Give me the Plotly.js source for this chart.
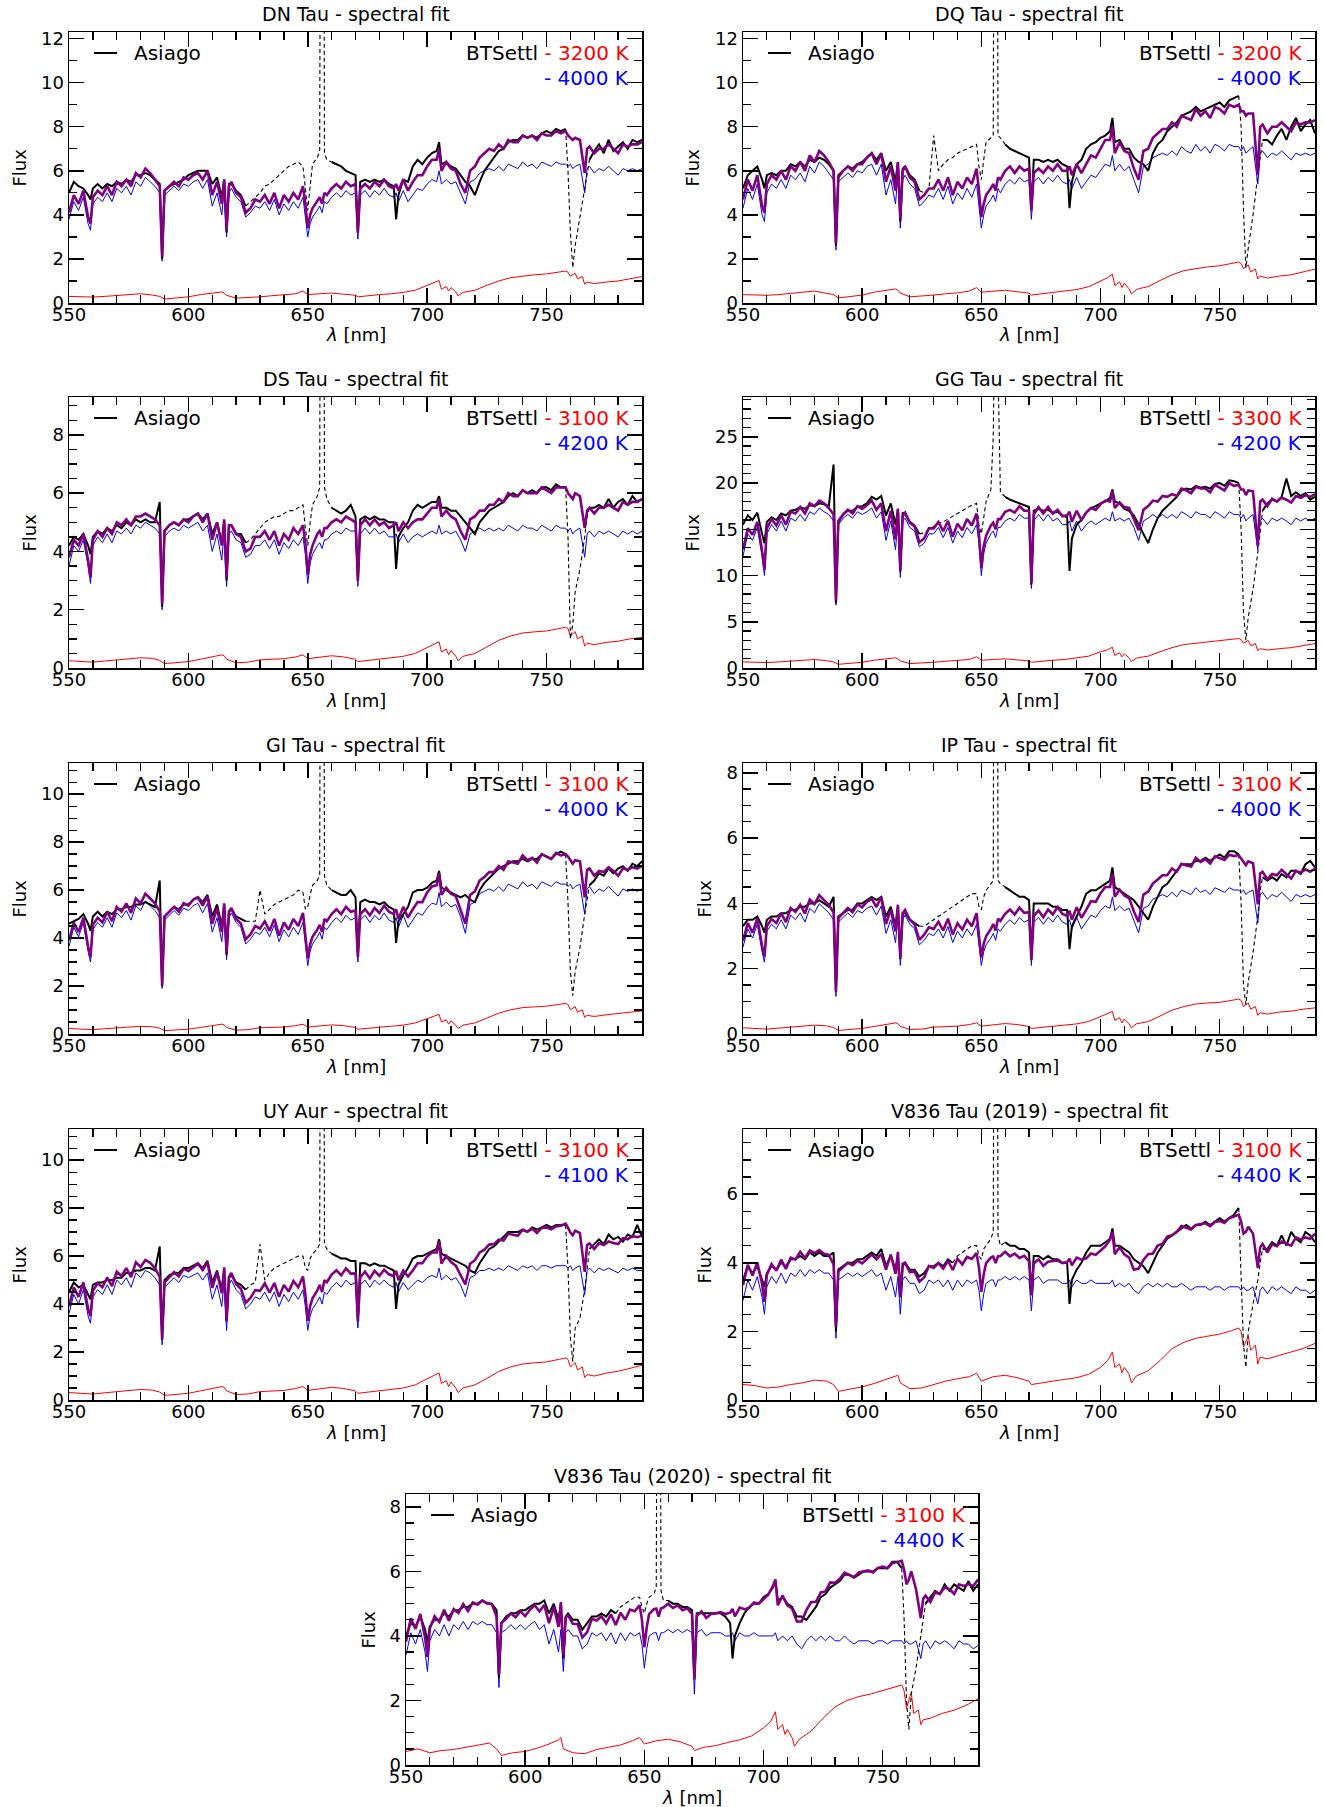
<!DOCTYPE html>
<html>
<head>
<meta charset="utf-8">
<script src="https://cdn.plot.ly/plotly-3.0.1.min.js"></script>
<style>html,body{margin:0;padding:0;background:#fff}#chart{width:1324px;height:1807px}</style>
</head>
<body>
<div id="chart"></div>
<script>
// ---------------- DATA ----------------
// wavelength grid (nm) for observed spectrum, fit and hot component
const wl = [550,552,554,556,558,559,560,562,564,566,
568,570,572,574,576,578,580,582,584,586,
588,589,590,592,594,596,598,600,602,604,
606,608,610,612,614,615,616,617,618,620,
622,624,626,628,630,632,634,636,638,640,
642,644,646,648,649,650,651,652,654,655,
656,657,658,660,662,664,666,668,670,671,
672,674,676,678,680,682,684,686,687,688,
690,692,694,696,698,700,702,704,705,706,
708,710,712,714,716,718,720,722,724,726,
728,730,732,734,736,738,740,742,744,746,
748,750,752,754,756,758,759,760,761,762,
764,766,767,768,770,772,774,776,778,780,
782,784,786,788,790];
// wavelength grid (nm) for the cool component
const wlCool = [550,555,560,565,570,575,580,585,588,590,
595,600,605,610,614,615,616,620,625,630,
635,640,645,648,650,655,660,665,670,671,
675,680,685,690,695,700,703,705,706,708,
709,710,712,713,715,718,720,725,730,735,
740,745,750,755,758,759,760,762,763,765,
766,767,770,775,780,785,790];

// ---- DN Tau ----
const DN_obs = [5.0,5.5,5.3,5.2,4.9,4.7,5.2,5.4,5.2,5.4,
5.3,5.5,5.4,5.6,5.5,5.8,5.8,5.9,5.8,5.6,
5.4,2.0,5.1,5.3,5.4,5.5,5.6,5.8,5.9,6.0,
6.0,6.0,5.4,5.7,4.8,5.6,3.2,5.4,5.4,5.1,
4.9,4.4,4.6,4.8,5.0,5.3,5.4,5.6,5.8,6.0,
6.2,6.3,6.4,6.2,5.2,4.2,5.3,6.3,6.6,6.9,
50,6.8,6.5,6.4,6.3,6.2,6.0,5.9,5.8,3.2,
5.5,5.6,5.5,5.6,5.5,5.6,5.4,5.3,3.8,4.9,
5.6,5.5,6.2,6.5,6.3,6.6,6.8,6.9,7.3,6.3,
6.4,6.2,6.1,5.8,5.5,5.3,4.9,5.5,6.0,6.3,
6.6,6.9,7.0,7.3,7.4,7.4,7.6,7.5,7.6,7.5,
7.7,7.8,7.7,7.9,7.8,7.9,6.0,3.2,1.6,2.6,
3.9,5.3,5.8,6.5,6.9,7.2,6.8,7.4,6.9,7.1,
7.3,7.0,7.4,7.3,7.4];
const DN_fit = [4.1,4.9,4.5,5.1,3.9,3.6,4.8,5.1,4.9,5.3,
4.9,5.5,5.3,5.6,5.3,5.9,5.7,6.1,5.9,5.6,
5.3,2.1,5.1,5.3,5.5,5.3,5.7,5.6,5.8,5.9,
5.6,6.0,4.9,5.5,4.5,5.6,3.3,5.3,5.5,5.0,
4.8,4.1,4.3,4.7,4.6,4.9,4.5,5.0,4.3,4.9,
4.6,5.0,4.7,5.3,4.5,3.4,4.0,4.3,4.6,4.8,
4.5,5.0,4.9,5.2,5.4,5.2,5.5,5.3,5.4,3.2,
5.2,5.4,5.2,5.5,5.3,5.6,5.3,5.2,5.4,5.1,
5.6,5.1,5.5,5.8,5.8,6.2,6.5,6.5,7.0,6.0,
6.4,6.1,6.0,5.4,5.0,6.0,6.2,6.6,6.8,7.0,
6.9,7.2,7.0,7.4,7.3,7.3,7.6,7.5,7.6,7.4,
7.7,7.6,7.6,7.8,7.7,7.8,7.6,7.5,7.4,7.5,
7.4,5.9,7.0,7.1,6.8,7.0,7.0,7.2,7.0,6.8,
7.2,7.1,7.2,7.2,7.3];
const DN_hot = [3.8,4.6,4.2,4.8,3.6,3.3,4.5,4.8,4.6,5.0,
4.6,5.2,5.0,5.3,4.9,5.5,5.3,5.7,5.5,5.3,
5.0,1.9,4.9,5.1,5.3,5.1,5.4,5.3,5.5,5.6,
5.2,5.6,4.4,5.0,4.0,5.2,3.0,5.0,5.2,4.8,
4.6,3.9,4.1,4.4,4.3,4.6,4.2,4.7,4.0,4.5,
4.2,4.6,4.3,4.8,4.0,3.0,3.6,3.9,4.2,4.4,
4.1,4.6,4.5,4.8,5.0,4.8,5.1,4.9,5.0,2.9,
4.9,5.1,4.8,5.1,4.9,5.2,4.9,4.8,5.0,4.6,
5.1,4.6,4.9,5.2,5.1,5.4,5.6,5.5,6.0,5.4,
5.6,5.4,5.5,5.0,4.5,5.5,5.6,5.9,6.0,6.1,
6.0,6.2,6.0,6.3,6.2,6.1,6.4,6.2,6.3,6.1,
6.4,6.3,6.2,6.4,6.3,6.3,6.2,6.3,6.1,6.2,
6.3,5.0,6.1,6.2,5.9,6.1,6.0,6.2,6.0,5.8,
6.1,6.0,6.1,6.0,6.1];
const DN_cool = [0.30,0.28,0.27,0.30,0.33,0.38,0.42,0.36,0.30,0.18,
0.22,0.28,0.38,0.46,0.50,0.45,0.35,0.22,0.24,0.28,
0.33,0.36,0.42,0.55,0.38,0.42,0.45,0.40,0.35,0.28,
0.33,0.38,0.42,0.48,0.58,0.80,0.90,1.02,0.62,0.75,
0.55,0.70,0.50,0.32,0.48,0.55,0.58,0.80,1.00,1.15,
1.22,1.28,1.32,1.40,1.45,1.40,1.22,1.35,1.10,1.20,
0.85,0.95,0.88,0.95,1.00,1.10,1.20];

// ---- DQ Tau ----
const DQ_obs = [5.2,5.8,6.0,6.2,5.6,5.2,5.8,5.9,5.8,6.0,
6.0,6.3,6.2,6.4,6.2,6.5,6.4,6.6,6.5,6.3,
6.0,2.6,5.8,6.0,6.2,6.1,6.3,6.4,6.6,6.8,
6.5,6.8,6.0,6.4,5.5,6.4,3.7,6.1,6.2,5.8,
5.6,5.1,5.0,5.2,7.6,6.0,6.3,6.5,6.6,6.8,
6.9,7.0,7.1,7.2,6.2,5.6,6.5,7.3,7.5,7.6,
50,7.6,7.5,7.2,7.0,6.9,6.8,6.7,6.6,4.3,
6.5,6.5,6.4,6.5,6.4,6.5,6.3,6.2,4.3,5.5,
6.3,6.5,7.0,7.2,7.3,7.5,7.6,7.8,8.4,7.3,
7.4,7.0,7.0,6.6,6.4,6.3,6.0,6.8,7.2,7.4,
7.8,8.0,8.2,8.5,8.6,8.7,8.9,8.7,8.8,8.9,
9.0,9.1,8.9,9.2,9.3,9.4,8.0,4.2,1.6,2.5,
4.0,5.8,6.6,7.4,7.4,7.2,7.6,7.9,7.4,8.0,
8.4,7.8,8.1,8.3,7.7];
const DQ_fit = [4.7,5.6,5.1,5.8,4.4,4.1,5.4,5.8,5.6,6.0,
5.6,6.2,6.0,6.4,6.0,6.7,6.4,6.9,6.7,6.4,
6.0,2.7,5.7,6.0,6.2,6.0,6.3,6.3,6.6,6.8,
6.3,6.8,5.5,6.2,5.1,6.4,3.8,6.0,6.2,5.7,
5.5,4.7,4.9,5.2,5.2,5.6,5.1,5.7,4.9,5.5,
5.2,5.7,5.4,6.1,5.1,3.9,4.5,4.9,5.2,5.4,
5.1,5.7,5.6,6.0,6.2,5.9,6.2,6.0,6.1,4.2,
5.9,6.1,5.9,6.2,6.0,6.3,6.0,6.0,6.2,5.8,
6.3,5.9,6.3,6.7,6.6,7.0,7.4,7.4,8.0,6.8,
7.3,6.9,6.8,6.1,5.6,6.9,7.0,7.5,7.7,7.9,
7.9,8.2,8.0,8.5,8.4,8.3,8.8,8.5,8.7,8.4,
8.9,8.8,8.6,9.0,8.9,9.0,8.7,8.7,8.5,8.6,
8.6,5.8,8.0,8.1,7.7,8.0,8.0,8.2,8.0,7.8,
8.2,8.1,8.2,8.2,8.3];
const DQ_hot = [4.3,5.2,4.7,5.4,4.0,3.7,5.0,5.4,5.2,5.6,
5.2,5.8,5.6,5.9,5.5,6.2,5.9,6.4,6.2,5.9,
5.6,2.4,5.5,5.7,5.9,5.7,6.0,5.9,6.2,6.3,
5.8,6.3,4.9,5.6,4.5,5.8,3.4,5.6,5.8,5.4,
5.2,4.4,4.6,4.9,4.8,5.2,4.7,5.3,4.5,5.0,
4.7,5.2,4.8,5.4,4.5,3.4,4.0,4.4,4.7,4.9,
4.6,5.2,5.0,5.4,5.6,5.4,5.7,5.5,5.6,3.8,
5.5,5.7,5.4,5.7,5.5,5.8,5.5,5.4,5.6,5.2,
5.7,5.2,5.5,5.8,5.7,6.0,6.3,6.2,6.7,6.0,
6.3,6.0,6.2,5.6,5.0,6.2,6.3,6.6,6.7,6.8,
6.7,6.9,6.7,7.1,6.9,6.8,7.2,6.9,7.1,6.8,
7.2,7.1,6.9,7.2,7.1,7.1,6.9,7.1,6.8,6.9,
7.1,5.4,6.8,6.9,6.6,6.8,6.7,6.9,6.7,6.5,
6.8,6.7,6.8,6.7,6.8];
const DQ_cool = [0.38,0.36,0.35,0.38,0.42,0.49,0.54,0.46,0.38,0.23,
0.28,0.36,0.49,0.59,0.64,0.58,0.45,0.28,0.31,0.36,
0.42,0.46,0.54,0.70,0.49,0.54,0.58,0.51,0.45,0.36,
0.42,0.49,0.54,0.61,0.74,1.02,1.15,1.31,0.79,0.96,
0.70,0.90,0.64,0.41,0.61,0.70,0.74,1.02,1.28,1.47,
1.56,1.64,1.69,1.79,1.86,1.79,1.56,1.73,1.41,1.54,
1.09,1.22,1.13,1.22,1.28,1.41,1.54];

// ---- DS Tau ----
const DS_obs = [4.2,4.5,4.4,4.6,4.2,3.9,4.5,4.7,4.6,4.8,
4.7,4.9,4.8,5.0,4.9,5.1,5.0,5.1,5.0,5.0,
5.7,2.1,4.7,4.9,5.0,4.9,5.1,5.1,5.2,5.3,
5.1,5.3,4.6,5.0,4.3,5.0,3.0,4.9,4.9,4.6,
4.6,4.3,4.4,4.6,4.8,5.0,5.1,5.2,5.2,5.3,
5.4,5.4,5.5,5.6,4.8,4.2,5.0,5.6,5.9,6.2,
40,6.2,5.8,5.5,5.4,5.3,5.4,5.6,5.2,3.0,
5.1,5.2,5.1,5.2,5.1,5.1,5.0,5.0,3.4,4.5,
4.8,5.0,5.4,5.6,5.5,5.6,5.7,5.7,5.9,5.5,
5.5,5.4,5.4,5.2,5.0,4.8,4.6,5.0,5.2,5.4,
5.5,5.6,5.7,5.9,6.0,5.9,6.1,6.0,6.1,6.0,
6.2,6.2,6.1,6.3,6.2,6.2,4.5,1.0,1.5,2.6,
3.4,4.5,5.2,5.5,5.5,5.6,5.5,5.8,5.5,5.7,
5.8,5.6,5.9,5.7,5.8];
const DS_fit = [3.8,4.4,4.2,4.6,3.7,3.1,4.4,4.7,4.5,4.8,
4.6,5.0,4.9,5.1,4.9,5.2,5.2,5.3,5.2,5.1,
4.9,2.2,4.7,4.9,5.0,4.9,5.1,5.0,5.2,5.3,
5.0,5.3,4.4,5.0,4.2,5.1,3.1,4.9,4.9,4.6,
4.5,4.0,4.1,4.5,4.5,4.7,4.4,4.7,4.2,4.6,
4.4,4.8,4.6,4.9,4.3,3.2,3.9,4.2,4.6,4.7,
4.5,4.8,4.8,5.0,5.1,5.0,5.2,5.1,5.0,3.0,
4.9,5.1,4.9,5.1,4.9,5.0,4.8,4.9,5.0,4.7,
5.0,4.8,5.0,5.1,5.1,5.3,5.5,5.5,5.8,5.2,
5.4,5.2,5.1,4.7,4.4,5.1,5.2,5.4,5.4,5.6,
5.6,5.8,5.7,6.0,5.9,5.9,6.1,6.0,6.0,6.0,
6.2,6.1,6.0,6.2,6.2,6.2,6.0,5.9,5.8,6.0,
5.9,4.8,5.4,5.5,5.3,5.5,5.5,5.6,5.5,5.4,
5.7,5.6,5.7,5.7,5.8];
const DS_hot = [3.5,4.2,4.0,4.4,3.5,2.9,4.2,4.5,4.3,4.6,
4.3,4.7,4.6,4.8,4.6,4.9,4.8,5.0,4.9,4.8,
4.6,2.0,4.5,4.7,4.8,4.7,4.9,4.8,4.9,5.0,
4.7,4.9,4.0,4.6,3.7,4.7,2.8,4.6,4.7,4.4,
4.3,3.8,3.9,4.2,4.2,4.4,4.1,4.4,3.9,4.3,
4.1,4.4,4.2,4.5,3.9,2.9,3.6,3.9,4.2,4.3,
4.1,4.4,4.4,4.6,4.7,4.6,4.8,4.7,4.7,2.8,
4.6,4.8,4.6,4.8,4.6,4.7,4.5,4.5,4.6,4.3,
4.6,4.3,4.5,4.6,4.5,4.6,4.7,4.6,4.9,4.6,
4.7,4.6,4.7,4.4,4.0,4.6,4.7,4.8,4.7,4.8,
4.7,4.8,4.7,4.9,4.8,4.7,4.9,4.8,4.8,4.7,
4.9,4.8,4.7,4.9,4.8,4.8,4.7,4.8,4.6,4.7,
4.8,3.8,4.6,4.7,4.5,4.7,4.6,4.7,4.6,4.5,
4.7,4.6,4.7,4.6,4.7];
const DS_cool = [0.25,0.22,0.20,0.24,0.27,0.31,0.35,0.33,0.26,0.15,
0.18,0.22,0.30,0.38,0.45,0.42,0.30,0.18,0.20,0.28,
0.30,0.32,0.38,0.45,0.32,0.38,0.42,0.38,0.30,0.22,
0.26,0.30,0.35,0.40,0.50,0.70,0.80,0.90,0.55,0.65,
0.45,0.60,0.40,0.25,0.40,0.46,0.50,0.72,0.95,1.10,
1.20,1.24,1.27,1.35,1.40,1.35,1.10,1.25,1.00,1.10,
0.75,0.85,0.80,0.88,0.92,1.00,1.05];

// ---- GG Tau ----
const GG_obs = [15.5,16.5,16.0,16.8,14.5,13.5,15.8,16.3,16.0,16.7,
16.5,17.0,17.1,17.4,17.2,17.6,17.5,17.8,17.7,17.5,
22.0,7.0,15.8,16.6,17.0,17.0,17.4,17.5,17.8,18.5,
18.2,18.6,16.5,17.8,15.5,17.2,10.4,16.8,16.6,15.8,
15.4,14.5,14.6,15.0,15.3,15.6,15.8,16.1,16.4,16.7,
17.0,17.3,17.6,17.8,15.5,14.5,16.5,18.0,19.3,25.0,
45,32,19.0,18.5,18.2,18.0,17.8,17.6,17.4,9.0,
17.0,17.2,17.0,17.1,16.8,16.9,16.5,16.3,10.5,14.0,
15.5,16.0,16.8,17.3,17.5,17.8,18.0,18.4,19.3,18.0,
17.8,17.2,17.0,16.5,15.5,14.5,13.5,15.0,16.2,17.0,
17.5,18.0,18.5,19.2,19.4,19.3,19.7,19.5,19.6,19.4,
19.9,20.0,19.7,20.3,20.2,20.0,15.0,6.0,3.0,5.5,
8.5,12.5,15.0,17.0,17.8,18.2,18.0,18.5,20.5,18.6,
19.0,18.6,18.9,18.2,18.5];
const GG_fit = [12.8,15.1,14.4,15.8,12.7,10.6,15.1,16.1,15.4,16.5,
15.5,16.9,16.7,17.4,16.7,17.8,17.5,18.1,17.8,17.3,
16.6,7.3,15.9,16.6,17.1,16.7,17.5,17.2,17.6,18.1,
17.1,17.8,14.8,17.0,13.9,17.2,10.6,16.5,16.8,15.7,
15.3,13.6,14.0,15.1,15.1,15.8,14.8,15.9,14.2,15.6,
14.9,16.1,15.4,16.7,14.5,10.8,13.2,14.3,15.4,15.7,
15.0,16.1,16.1,16.9,17.1,16.8,17.5,17.0,17.0,9.2,
16.6,17.4,16.7,17.4,16.7,17.1,16.4,16.5,16.9,15.8,
17.0,16.0,16.8,17.3,17.1,17.7,18.1,18.0,19.1,17.3,
17.9,17.4,17.3,16.1,14.9,17.1,17.5,18.1,18.0,18.6,
18.5,18.8,18.6,19.4,19.2,18.9,19.6,19.4,19.4,19.0,
19.8,19.5,19.2,20.0,19.7,19.8,19.3,19.3,18.7,19.2,
19.1,13.2,18.0,18.2,17.5,18.3,18.0,18.4,18.2,17.9,
18.6,18.4,18.7,18.5,18.8];
const GG_hot = [12.1,14.5,13.8,15.2,12.1,10.0,14.5,15.5,14.8,15.9,
14.8,16.2,15.9,16.6,15.9,16.9,16.6,17.3,16.9,16.6,
15.9,6.8,15.5,16.2,16.6,16.2,16.9,16.6,16.9,17.3,
16.2,16.9,13.8,15.9,12.8,16.2,9.8,15.9,16.2,15.2,
14.8,13.1,13.5,14.5,14.5,15.2,14.1,15.2,13.5,14.8,
14.1,15.2,14.5,15.5,13.5,10.0,12.4,13.5,14.5,14.8,
14.1,15.2,15.2,15.9,16.2,15.9,16.6,16.2,16.2,8.6,
15.9,16.6,15.9,16.6,15.9,16.2,15.5,15.5,15.9,14.8,
15.9,14.8,15.5,15.9,15.5,15.9,16.2,15.9,16.9,15.9,
16.2,15.9,16.2,15.2,13.8,15.9,16.2,16.6,16.2,16.6,
16.2,16.6,16.2,16.9,16.6,16.2,16.9,16.6,16.6,16.2,
16.9,16.6,16.2,16.9,16.6,16.6,16.2,16.6,15.9,16.2,
16.6,12.8,15.9,16.2,15.5,16.2,15.9,16.2,15.9,15.5,
16.2,15.9,16.2,15.9,16.2];
const GG_cool = [0.66,0.62,0.59,0.66,0.73,0.84,0.92,0.79,0.66,0.40,
0.48,0.62,0.84,1.01,1.10,0.99,0.77,0.48,0.53,0.62,
0.73,0.79,0.92,1.21,0.84,0.92,0.99,0.88,0.77,0.62,
0.73,0.84,0.92,1.06,1.28,1.76,1.98,2.24,1.36,1.65,
1.21,1.54,1.10,0.70,1.06,1.21,1.28,1.76,2.20,2.53,
2.68,2.82,2.90,3.08,3.19,3.08,2.68,2.97,2.42,2.64,
1.87,2.09,1.94,2.09,2.20,2.42,2.64];

// ---- GI Tau ----
const GI_obs = [4.6,4.7,4.8,5.0,4.6,4.3,4.9,5.1,4.9,5.1,
5.0,5.2,5.2,5.3,5.3,5.4,5.4,5.5,5.4,5.3,
6.4,2.0,4.9,5.1,5.3,5.2,5.4,5.4,5.6,5.7,
5.5,5.8,4.9,5.4,4.5,5.4,3.3,5.1,5.2,4.9,
4.8,4.7,4.7,4.7,6.0,5.0,5.2,5.4,5.5,5.6,
5.7,5.8,6.0,5.9,5.2,5.3,5.8,6.2,6.4,6.6,
50,6.6,6.2,6.0,5.9,5.8,5.8,6.0,5.7,3.4,
5.5,5.6,5.5,5.5,5.4,5.5,5.3,5.2,3.8,4.7,
5.0,5.3,5.9,6.0,6.0,6.1,6.3,6.4,6.8,6.1,
6.0,5.9,5.8,5.7,5.8,5.6,5.5,6.0,6.3,6.5,
6.7,6.9,7.0,7.1,7.2,7.2,7.3,7.2,7.3,7.3,
7.5,7.4,7.3,7.5,7.6,7.5,5.5,2.6,1.6,2.6,
3.6,5.0,5.6,6.2,6.4,6.7,6.6,6.9,6.7,6.9,
7.0,6.8,7.1,7.0,7.2];
const GI_fit = [3.9,4.65,4.25,4.85,3.65,3.2,4.55,4.85,4.65,5.1,
4.7,5.3,5.1,5.45,5.05,5.65,5.45,5.85,5.65,5.45,
5.1,2.05,4.9,5.1,5.3,5.1,5.45,5.35,5.6,5.7,
5.35,5.75,4.6,5.25,4.25,5.45,3.35,5.1,5.25,4.8,
4.6,3.95,4.15,4.5,4.4,4.7,4.3,4.8,4.1,4.65,
4.35,4.8,4.5,5.05,4.2,3.15,3.75,4.05,4.35,4.55,
4.25,4.8,4.7,5.0,5.2,5.0,5.3,5.1,5.15,3.2,
5.0,5.2,4.95,5.25,5.05,5.35,5.1,5.0,5.2,4.8,
5.3,4.85,5.2,5.5,5.5,5.9,6.15,6.2,6.7,5.8,
6.1,5.85,5.75,5.15,4.6,5.8,5.95,6.4,6.55,6.75,
6.75,7.0,6.85,7.2,7.15,7.1,7.45,7.25,7.35,7.15,
7.5,7.4,7.3,7.55,7.45,7.5,7.4,7.25,7.1,7.25,
7.2,5.7,6.85,6.9,6.6,6.8,6.75,6.95,6.8,6.6,
6.9,6.85,6.95,6.9,7.0];
const GI_hot = [3.65,4.45,4.05,4.65,3.45,3.0,4.35,4.65,4.45,4.85,
4.45,5.05,4.85,5.15,4.75,5.35,5.15,5.55,5.35,5.15,
4.85,1.9,4.75,4.95,5.15,4.95,5.25,5.15,5.35,5.45,
5.05,5.45,4.25,4.85,3.85,5.05,3.1,4.85,5.05,4.65,
4.45,3.75,3.95,4.25,4.15,4.45,4.05,4.55,3.85,4.35,
4.05,4.45,4.15,4.65,3.85,2.85,3.45,3.75,4.05,4.25,
3.95,4.45,4.35,4.65,4.85,4.65,4.95,4.75,4.85,3.0,
4.75,4.95,4.65,4.95,4.75,5.05,4.75,4.65,4.85,4.45,
4.95,4.45,4.75,5.05,4.95,5.25,5.45,5.4,5.9,5.3,
5.5,5.3,5.4,4.9,4.2,5.4,5.5,5.85,5.95,6.05,
5.95,6.15,5.95,6.25,6.15,6.05,6.35,6.15,6.25,6.05,
6.35,6.25,6.15,6.35,6.25,6.25,6.15,6.25,6.05,6.15,
6.25,5.0,6.05,6.15,5.85,6.05,5.95,6.15,5.95,5.75,
6.05,5.95,6.05,5.95,6.05];
const GI_cool = [0.23,0.20,0.18,0.22,0.25,0.28,0.32,0.30,0.24,0.14,
0.16,0.20,0.27,0.35,0.41,0.38,0.27,0.16,0.18,0.26,
0.27,0.29,0.35,0.41,0.29,0.35,0.38,0.35,0.27,0.20,
0.24,0.27,0.32,0.37,0.46,0.64,0.73,0.82,0.50,0.59,
0.41,0.55,0.37,0.23,0.37,0.42,0.46,0.66,0.87,1.01,
1.10,1.13,1.16,1.23,1.28,1.23,1.01,1.14,0.91,1.01,
0.69,0.78,0.73,0.80,0.84,0.91,0.96];

// ---- IP Tau ----
const IP_obs = [3.3,3.5,3.5,3.6,3.3,3.1,3.5,3.6,3.6,3.7,
3.7,3.8,3.8,3.9,3.9,4.0,4.0,4.1,4.0,3.9,
4.2,1.3,3.6,3.7,3.8,3.8,4.0,4.0,4.1,4.2,
4.1,4.2,3.6,3.9,3.3,3.9,2.3,3.7,3.7,3.5,
3.4,3.3,3.3,3.4,3.5,3.6,3.7,3.8,3.9,4.0,
4.1,4.2,4.3,4.3,3.9,3.8,4.2,4.4,4.6,4.7,
40,4.7,4.6,4.5,4.4,4.3,4.2,4.2,4.1,2.4,
4.0,4.0,4.0,4.0,3.9,3.9,3.8,3.8,2.6,3.3,
3.6,3.9,4.3,4.4,4.4,4.5,4.6,4.7,5.1,4.5,
4.4,4.3,4.2,4.1,3.9,3.7,3.5,3.9,4.2,4.5,
4.6,4.8,5.0,5.2,5.2,5.2,5.3,5.3,5.4,5.3,
5.4,5.5,5.4,5.6,5.6,5.5,4.0,1.5,0.9,1.6,
2.5,3.6,4.4,4.8,4.7,4.8,4.7,4.9,4.8,5.0,
5.0,4.9,5.2,5.3,5.1];
const IP_fit = [2.85,3.4,3.1,3.55,2.7,2.37,3.3,3.52,3.4,3.7,
3.43,3.86,3.74,3.96,3.69,4.12,3.98,4.25,4.1,3.96,
3.72,1.3,3.55,3.71,3.86,3.73,3.97,3.88,4.05,4.14,
3.89,4.2,3.37,3.81,3.14,3.96,2.33,3.7,3.8,3.5,
3.36,2.88,3.04,3.27,3.22,3.44,3.17,3.53,3.05,3.39,
3.2,3.5,3.3,3.7,3.1,2.34,2.77,2.99,3.22,3.37,
3.17,3.53,3.46,3.68,3.81,3.66,3.87,3.71,3.73,2.27,
3.62,3.78,3.58,3.81,3.66,3.89,3.68,3.62,3.77,3.5,
3.88,3.56,3.8,4.07,4.05,4.31,4.5,4.5,4.89,4.2,
4.42,4.24,4.16,3.75,3.43,4.27,4.36,4.61,4.73,4.86,
4.86,5.07,4.97,5.21,5.16,5.13,5.4,5.27,5.35,5.22,
5.44,5.38,5.33,5.49,5.45,5.48,5.37,5.25,5.17,5.29,
5.23,3.97,4.92,4.97,4.74,4.9,4.86,5.03,4.9,4.76,
5.0,4.94,5.04,4.97,5.07];
const IP_hot = [2.66,3.22,2.94,3.36,2.52,2.2,3.15,3.36,3.22,3.5,
3.22,3.64,3.5,3.71,3.43,3.85,3.71,3.99,3.85,3.71,
3.5,1.15,3.43,3.57,3.71,3.57,3.78,3.71,3.85,3.92,
3.64,3.92,3.08,3.5,2.8,3.64,2.1,3.5,3.64,3.36,
3.22,2.73,2.87,3.08,3.01,3.22,2.94,3.29,2.8,3.15,
2.94,3.22,3.01,3.36,2.8,2.1,2.52,2.73,2.94,3.08,
2.87,3.22,3.15,3.36,3.5,3.36,3.57,3.43,3.5,2.1,
3.43,3.57,3.36,3.57,3.43,3.64,3.43,3.36,3.5,3.22,
3.57,3.22,3.43,3.64,3.57,3.78,3.92,3.85,4.2,3.78,
3.92,3.78,3.85,3.5,3.1,3.85,3.92,4.13,4.2,4.27,
4.2,4.34,4.2,4.41,4.34,4.27,4.48,4.34,4.41,4.27,
4.48,4.41,4.34,4.48,4.41,4.41,4.34,4.41,4.27,4.34,
4.41,3.4,4.27,4.34,4.13,4.27,4.2,4.34,4.2,4.06,
4.27,4.2,4.27,4.2,4.27];
const IP_cool = [0.19,0.17,0.15,0.18,0.21,0.24,0.27,0.25,0.20,0.11,
0.14,0.17,0.23,0.29,0.34,0.32,0.23,0.14,0.15,0.21,
0.23,0.24,0.29,0.34,0.24,0.29,0.32,0.29,0.23,0.17,
0.20,0.23,0.27,0.31,0.38,0.53,0.61,0.69,0.42,0.50,
0.34,0.46,0.31,0.19,0.31,0.35,0.38,0.55,0.73,0.84,
0.92,0.95,0.97,1.03,1.07,1.03,0.84,0.95,0.76,0.84,
0.57,0.65,0.61,0.67,0.70,0.76,0.80];

// ---- UY Aur ----
const UY_obs = [4.5,4.9,4.7,4.8,4.4,4.2,4.8,4.9,4.9,5.0,
5.0,5.1,5.1,5.3,5.3,5.4,5.4,5.5,5.5,5.4,
6.4,2.5,5.0,5.2,5.3,5.3,5.5,5.5,5.6,5.7,
5.5,5.8,4.9,5.4,4.6,5.4,3.3,5.1,5.2,4.9,
4.8,4.6,4.8,4.9,6.5,5.0,5.3,5.5,5.6,5.7,
5.8,5.9,6.0,6.0,5.5,5.4,5.9,6.1,6.3,6.5,
50,6.5,6.3,6.1,6.0,5.9,5.9,5.8,5.8,3.4,
5.7,5.7,5.6,5.7,5.6,5.6,5.5,5.4,3.8,4.8,
5.2,5.5,5.9,6.0,6.0,6.1,6.2,6.3,6.7,6.1,
6.0,5.9,5.8,5.7,5.6,5.4,5.3,5.7,6.0,6.3,
6.4,6.6,6.8,7.0,7.0,7.0,7.1,7.0,7.2,7.1,
7.2,7.3,7.2,7.3,7.3,7.3,5.5,2.6,1.6,3.0,
3.4,4.6,5.5,6.3,6.5,6.7,6.5,6.9,6.7,6.8,
6.6,6.9,6.8,7.3,6.8];
const UY_fit = [3.9,4.7,4.3,4.9,3.8,3.5,4.55,4.87,4.7,5.1,
4.75,5.35,5.17,5.5,5.12,5.74,5.55,5.84,5.72,5.5,
5.13,2.55,4.9,5.12,5.33,5.15,5.47,5.38,5.53,5.68,
5.42,5.74,4.68,5.32,4.45,5.53,3.28,5.13,5.3,4.83,
4.64,4.05,4.26,4.58,4.55,4.86,4.48,4.88,4.3,4.8,
4.52,4.96,4.7,5.15,4.4,3.3,3.92,4.24,4.57,4.8,
4.5,5.0,4.91,5.23,5.41,5.2,5.49,5.27,5.28,3.28,
5.12,5.35,5.07,5.39,5.18,5.43,5.24,5.17,5.39,5.0,
5.4,5.15,5.4,5.7,5.7,5.98,6.15,6.15,6.63,5.69,
6.01,5.75,5.6,5.2,4.82,5.68,5.83,6.15,6.27,6.48,
6.5,6.69,6.65,6.93,6.89,6.85,7.1,7.02,7.14,6.97,
7.18,7.19,7.12,7.24,7.27,7.35,7.19,6.98,6.87,7.06,
6.96,5.34,6.46,6.53,6.3,6.54,6.46,6.61,6.55,6.5,
6.75,6.7,6.84,6.79,6.85];
const UY_hot = [3.6,4.4,4.0,4.6,3.5,3.2,4.3,4.6,4.4,4.8,
4.4,5.0,4.8,5.1,4.7,5.3,5.1,5.4,5.3,5.1,
4.8,2.3,4.7,4.9,5.1,4.9,5.2,5.1,5.2,5.3,
5.0,5.3,4.2,4.8,3.9,5.0,2.9,4.8,5.0,4.6,
4.4,3.8,4.0,4.3,4.2,4.5,4.1,4.5,3.9,4.4,
4.1,4.5,4.2,4.6,3.9,2.9,3.5,3.8,4.1,4.3,
4.0,4.5,4.4,4.7,4.9,4.7,5.0,4.8,4.9,3.0,
4.8,5.0,4.7,5.0,4.8,5.0,4.8,4.7,4.9,4.5,
4.9,4.6,4.8,5.0,4.9,5.1,5.2,5.1,5.5,5.0,
5.2,5.0,5.1,4.8,4.3,5.1,5.2,5.4,5.4,5.5,
5.4,5.5,5.4,5.6,5.5,5.4,5.6,5.5,5.6,5.4,
5.6,5.6,5.5,5.6,5.6,5.6,5.5,5.6,5.4,5.5,
5.6,4.4,5.4,5.5,5.3,5.5,5.4,5.5,5.4,5.3,
5.5,5.4,5.5,5.4,5.4];
const UY_cool = [0.31,0.28,0.25,0.30,0.34,0.39,0.44,0.41,0.33,0.19,
0.23,0.28,0.38,0.48,0.56,0.53,0.38,0.23,0.25,0.35,
0.38,0.40,0.48,0.56,0.40,0.48,0.53,0.48,0.38,0.28,
0.33,0.38,0.44,0.50,0.63,0.88,1.00,1.13,0.69,0.81,
0.56,0.75,0.50,0.31,0.50,0.58,0.63,0.90,1.19,1.38,
1.50,1.55,1.59,1.69,1.75,1.69,1.38,1.56,1.25,1.38,
0.94,1.06,1.00,1.12,1.20,1.32,1.45];

// ---- V836 Tau (2019) ----
const V19_obs = [3.5,3.9,3.7,3.9,3.5,3.3,3.7,3.9,3.8,4.0,
3.9,4.1,4.1,4.2,4.1,4.3,4.2,4.3,4.2,4.2,
4.3,2.0,3.8,3.9,4.0,4.0,4.1,4.1,4.2,4.3,
4.2,4.4,3.9,4.2,3.8,4.2,3.0,3.9,4.0,3.8,
3.8,3.6,3.7,3.9,3.9,4.0,3.9,4.1,4.0,4.2,
4.3,4.4,4.5,4.5,4.2,4.1,4.4,4.5,4.7,4.9,
30,4.8,4.5,4.6,4.5,4.5,4.4,4.4,4.3,3.1,
4.2,4.2,4.1,4.2,4.1,4.1,4.0,4.0,2.8,3.5,
3.8,4.0,4.3,4.5,4.5,4.5,4.6,4.7,5.0,4.5,
4.5,4.4,4.3,4.1,4.0,3.9,3.7,4.0,4.3,4.5,
4.7,4.8,4.9,5.0,5.1,5.0,5.1,5.1,5.2,5.1,
5.2,5.3,5.2,5.3,5.4,5.6,3.5,1.6,0.95,2.0,
2.8,3.5,4.0,4.4,4.4,4.6,4.5,4.8,4.5,4.9,
4.7,4.6,4.9,4.8,4.6];
const V19_fit = [3.35,3.94,3.63,4.01,3.38,2.86,3.65,3.96,3.77,4.09,
3.82,4.15,4.1,4.32,4.14,4.36,4.28,4.37,4.26,4.23,
3.95,2.15,3.75,3.88,4.0,3.93,4.06,3.98,4.12,4.24,
4.1,4.25,3.8,4.24,3.68,4.32,3.0,3.97,4.0,3.73,
3.74,3.45,3.57,3.91,3.85,3.99,3.83,4.06,3.79,4.12,
3.95,4.17,4.11,4.28,3.86,3.15,3.67,3.99,4.15,4.18,
3.99,4.19,4.2,4.32,4.19,4.27,4.14,4.2,4.05,3.05,
3.98,4.1,3.91,4.03,4.05,4.07,3.99,4.02,4.12,3.93,
4.15,4.09,4.13,4.27,4.23,4.35,4.48,4.68,4.9,4.25,
4.45,4.25,4.15,3.8,3.83,4.08,4.25,4.27,4.5,4.55,
4.76,4.8,4.9,5.07,5.03,4.97,5.1,5.12,5.15,5.07,
5.19,5.22,5.16,5.3,5.35,5.4,5.2,4.85,4.9,5.05,
4.85,3.85,4.45,4.55,4.3,4.54,4.48,4.62,4.56,4.5,
4.74,4.68,4.74,4.7,4.85];
const V19_hot = [2.9,3.5,3.2,3.6,3.0,2.5,3.3,3.6,3.4,3.7,
3.4,3.7,3.6,3.8,3.6,3.8,3.7,3.8,3.7,3.7,
3.5,1.8,3.5,3.6,3.7,3.6,3.7,3.6,3.7,3.8,
3.6,3.7,3.2,3.6,3.0,3.6,2.5,3.5,3.6,3.4,
3.4,3.1,3.2,3.5,3.4,3.5,3.3,3.5,3.2,3.5,
3.3,3.5,3.4,3.5,3.2,2.6,3.1,3.4,3.5,3.5,
3.3,3.5,3.5,3.6,3.5,3.6,3.5,3.6,3.5,2.6,
3.5,3.6,3.4,3.5,3.5,3.5,3.4,3.4,3.5,3.3,
3.5,3.4,3.4,3.5,3.4,3.4,3.4,3.4,3.5,3.3,
3.4,3.3,3.4,3.2,3.1,3.3,3.4,3.3,3.4,3.3,
3.4,3.3,3.3,3.4,3.3,3.2,3.3,3.3,3.3,3.2,
3.3,3.3,3.2,3.3,3.3,3.3,3.2,3.3,3.2,3.2,
3.3,2.8,3.2,3.3,3.1,3.3,3.2,3.3,3.2,3.1,
3.3,3.2,3.2,3.1,3.2];
const V19_cool = [0.45,0.42,0.35,0.38,0.45,0.50,0.58,0.55,0.45,0.25,
0.32,0.38,0.48,0.60,0.68,0.72,0.50,0.33,0.35,0.45,
0.55,0.62,0.68,0.78,0.55,0.68,0.72,0.65,0.55,0.45,
0.50,0.55,0.60,0.65,0.75,0.95,1.15,1.40,0.95,1.05,
0.80,0.95,0.75,0.50,0.70,0.78,0.85,1.15,1.50,1.68,
1.80,1.86,1.92,2.02,2.10,2.00,1.55,1.85,1.45,1.60,
1.05,1.25,1.20,1.30,1.40,1.50,1.65];

// ---- V836 Tau (2020) ----
const V20_obs = [4.0,4.4,4.3,4.6,4.2,3.8,4.3,4.5,4.5,4.7,
4.6,4.8,4.8,4.9,4.9,5.0,5.0,5.1,5.0,5.0,
4.8,2.7,4.4,4.6,4.7,4.7,4.8,4.8,4.9,5.0,
5.0,5.1,4.7,5.0,4.5,5.0,3.3,4.6,4.7,4.5,
4.5,4.2,4.4,4.6,4.6,4.7,4.6,4.8,4.7,4.9,
5.0,5.1,5.2,5.2,4.9,4.7,5.0,5.2,5.3,5.5,
30,5.4,5.1,5.1,5.0,5.0,4.9,4.9,4.8,2.7,
4.7,4.7,4.7,4.7,4.7,4.7,4.6,4.4,3.3,4.0,
4.4,4.7,4.9,5.0,5.0,5.2,5.3,5.5,5.7,5.1,
5.2,5.0,4.9,4.6,4.6,4.5,4.7,4.9,5.2,5.3,
5.5,5.6,5.7,5.9,5.9,5.8,5.9,6.0,6.0,6.0,
6.1,6.1,6.1,6.3,6.3,6.1,4.5,2.0,1.1,2.2,
3.0,4.0,4.5,5.0,5.2,5.4,5.3,5.6,5.4,5.6,
5.5,5.4,5.7,5.4,5.6];
const V20_fit = [3.82,4.55,4.22,4.68,3.95,3.35,4.23,4.61,4.43,4.81,
4.47,4.83,4.71,4.99,4.77,5.04,4.97,5.1,5.02,4.99,
4.6,2.8,4.4,4.53,4.7,4.58,4.76,4.62,4.81,4.95,
4.76,4.96,4.4,4.9,4.28,5.05,3.4,4.57,4.64,4.38,
4.37,3.95,4.12,4.53,4.48,4.61,4.39,4.67,4.34,4.72,
4.5,4.82,4.77,4.95,4.5,3.65,4.26,4.68,4.83,4.85,
4.6,4.86,4.88,5.0,4.87,4.95,4.8,4.86,4.68,2.65,
4.62,4.76,4.56,4.68,4.7,4.74,4.68,4.72,4.84,4.61,
4.88,4.83,4.87,5.04,5.0,5.15,5.28,5.55,5.75,4.95,
5.25,4.95,4.85,4.45,4.45,4.8,5.05,5.06,5.35,5.38,
5.66,5.65,5.77,5.96,5.88,5.82,5.97,6.0,6.03,5.97,
6.11,6.15,6.1,6.25,6.3,6.33,6.05,5.6,5.75,6.0,
5.45,4.55,5.15,5.25,5.05,5.35,5.3,5.5,5.45,5.3,
5.6,5.55,5.6,5.55,5.75];
const V20_hot = [3.4,4.1,3.75,4.2,3.5,2.9,3.85,4.2,4.0,4.35,
4.0,4.35,4.2,4.45,4.2,4.45,4.35,4.45,4.35,4.35,
4.1,2.4,4.1,4.2,4.35,4.2,4.35,4.2,4.35,4.45,
4.2,4.35,3.75,4.2,3.5,4.2,2.9,4.1,4.2,4.0,
4.0,3.6,3.75,4.1,4.0,4.1,3.85,4.1,3.75,4.1,
3.85,4.1,4.0,4.1,3.75,3.0,3.6,4.0,4.1,4.1,
3.85,4.1,4.1,4.2,4.1,4.2,4.1,4.2,4.1,2.2,
4.1,4.2,4.0,4.1,4.1,4.1,4.0,4.0,4.1,3.85,
4.1,4.0,4.0,4.1,4.0,4.0,4.0,4.0,4.1,3.85,
4.0,3.85,4.0,3.75,3.6,3.85,4.0,3.85,4.0,3.85,
4.0,3.85,3.85,4.0,3.85,3.75,3.85,3.85,3.85,3.75,
3.85,3.85,3.75,3.85,3.85,3.85,3.75,3.85,3.75,3.75,
3.85,3.3,3.75,3.85,3.6,3.85,3.75,3.85,3.75,3.6,
3.85,3.75,3.75,3.6,3.7];
const V20_cool = [0.42,0.50,0.38,0.45,0.48,0.55,0.62,0.68,0.50,0.30,
0.38,0.42,0.52,0.65,0.78,0.85,0.50,0.38,0.35,0.48,
0.55,0.62,0.75,0.85,0.65,0.75,0.80,0.72,0.58,0.45,
0.55,0.60,0.70,0.78,0.90,1.15,1.35,1.65,1.10,1.25,
0.95,1.10,0.85,0.58,0.80,0.95,1.05,1.45,1.80,2.00,
2.12,2.20,2.30,2.42,2.48,2.30,1.75,2.25,1.60,1.70,
1.25,1.40,1.45,1.60,1.70,1.85,2.05];

// panel titles, model temperatures and masked (excluded) wavelength ranges
const titles = ['DN Tau - spectral fit','DQ Tau - spectral fit','DS Tau - spectral fit','GG Tau - spectral fit',
  'GI Tau - spectral fit','IP Tau - spectral fit','UY Aur - spectral fit','V836 Tau (2019) - spectral fit','V836 Tau (2020) - spectral fit'];
const coolT = ['3200 K','3200 K','3100 K','3300 K','3100 K','3100 K','3100 K','3100 K','3100 K'];
const hotT  = ['4000 K','4000 K','4200 K','4200 K','4000 K','4000 K','4100 K','4400 K','4400 K'];
const masks = [
  [[624,660],[758,768]],[[624,660],[758,768]],[[624,660],[758,768]],[[624,660],[758,768]],
  [[624,660],[758,768]],[[624,660],[758,768]],[[624,660],[758,768]],[[638,660],[758,768]],[[638,660],[758,768]]];
const obsSets  = [DN_obs,DQ_obs,DS_obs,GG_obs,GI_obs,IP_obs,UY_obs,V19_obs,V20_obs];
const fitSets  = [DN_fit,DQ_fit,DS_fit,GG_fit,GI_fit,IP_fit,UY_fit,V19_fit,V20_fit];
const hotSets  = [DN_hot,DQ_hot,DS_hot,GG_hot,GI_hot,IP_hot,UY_hot,V19_hot,V20_hot];
const coolSets = [DN_cool,DQ_cool,DS_cool,GG_cool,GI_cool,IP_cool,UY_cool,V19_cool,V20_cool];
const yMax   = [12.3,12.3,9.3,29.3,11.3,8.3,11.3,7.9,8.4];
const yDtick = [2,2,2,5,2,2,2,2,2];
const yMinor = [1,1,0.5,1,0.5,0.5,0.5,0.5,0.5];

// ---------------- LAYOUT (pixel boxes) ----------------
const W = 1324, H = 1807;
const boxes = [
  {l:69,r:642,t:32,b:303, ylab:50},
  {l:743,r:1315,t:32,b:303, ylab:51},
  {l:69,r:642,t:397,b:668, ylab:40},
  {l:743,r:1315,t:397,b:668, ylab:51},
  {l:69,r:642,t:763,b:1034, ylab:50},
  {l:743,r:1315,t:763,b:1034, ylab:39},
  {l:69,r:642,t:1129,b:1400, ylab:50},
  {l:743,r:1315,t:1129,b:1400, ylab:39},
  {l:406,r:978,t:1494,b:1765, ylab:38}
];
const FONT = '"DejaVu Sans", Verdana, sans-serif';

function splitMask(x, y, m) {
  const solid = [], dashed = [];
  for (let i = 0; i < x.length; i++) {
    const inside = m.some(r => x[i] > r[0] && x[i] < r[1]);
    const edge = m.some(r => x[i] >= r[0] && x[i] <= r[1]);
    solid.push(inside ? null : y[i]);
    dashed.push(edge ? y[i] : null);
  }
  return {solid, dashed};
}

const data = [];
const layout = {
  width: W, height: H, margin: {l:0,r:0,t:0,b:0},
  paper_bgcolor: '#fff', plot_bgcolor: '#fff', showlegend: false,
  annotations: [], shapes: [], font: {family: FONT, color: '#000'}
};

titles.forEach((ttl, i) => {
  const sfx = i === 0 ? '' : String(i + 1);
  const xa = 'x' + sfx, ya = 'y' + sfx;
  const bx = boxes[i];
  const pw = bx.r - bx.l, ph = bx.b - bx.t;
  const m = splitMask(wl, obsSets[i], masks[i]);

  data.push({x: wlCool, y: coolSets[i], xaxis: xa, yaxis: ya, mode: 'lines', line: {color: '#ff0000', width: 1}});
  data.push({x: wl, y: hotSets[i], xaxis: xa, yaxis: ya, mode: 'lines', line: {color: '#0000ff', width: 1}});
  data.push({x: wl, y: m.solid, xaxis: xa, yaxis: ya, mode: 'lines', connectgaps: false, line: {color: '#000', width: 2}});
  data.push({x: wl, y: m.dashed, xaxis: xa, yaxis: ya, mode: 'lines', connectgaps: false, line: {color: '#000', width: 1.1, dash: '4px,3px'}});
  data.push({x: wl, y: fitSets[i], xaxis: xa, yaxis: ya, mode: 'lines', line: {color: '#800080', width: 2.6}});

  const common = {
    ticks: 'inside', ticklen: 15, tickwidth: 1.5, tickcolor: '#000',
    mirror: 'ticks', showline: true, linecolor: '#000', linewidth: 1.5,
    showgrid: false, zeroline: false, fixedrange: true,
    tickfont: {family: FONT, size: 18, color: '#000'}
  };
  layout['xaxis' + sfx] = Object.assign({}, common, {
    domain: [bx.l / W, bx.r / W], anchor: ya, range: [550, 790],
    tickmode: 'linear', tick0: 550, dtick: 50, ticklabelstandoff: -5,
    minor: {tick0: 550, dtick: 10, ticks: 'inside', ticklen: 8, tickwidth: 1.3, tickcolor: '#000', showgrid: false}
  });
  layout['yaxis' + sfx] = Object.assign({}, common, {
    domain: [1 - bx.b / H, 1 - bx.t / H], anchor: xa, range: [0, yMax[i]],
    tickmode: 'linear', tick0: 0, dtick: yDtick[i],
    minor: {tick0: 0, dtick: yMinor[i], ticks: 'inside', ticklen: 8, tickwidth: 1.3, tickcolor: '#000', showgrid: false}
  });

  const xr = xa + ' domain', yr = ya + ' domain';
  const A = layout.annotations;
  A.push({xref: xr, yref: yr, x: 0.5, y: 1 + 18 / ph, xanchor: 'center', yanchor: 'middle', showarrow: false,
          text: ttl, font: {family: FONT, size: 19, color: '#000'}});
  A.push({xref: xr, yref: yr, x: 0.5, y: -32 / ph, xanchor: 'center', yanchor: 'middle', showarrow: false,
          text: '<i>λ</i> [nm]', font: {family: FONT, size: 18, color: '#000'}});
  A.push({xref: xr, yref: yr, x: -bx.ylab / pw, y: 0.5, xanchor: 'center', yanchor: 'middle', showarrow: false,
          textangle: -90, text: 'Flux', font: {family: FONT, size: 18, color: '#000'}});
  A.push({xref: xr, yref: yr, x: 63 / pw, y: 1 - 21 / ph, xanchor: 'left', yanchor: 'middle', showarrow: false,
          text: 'Asiago', font: {family: FONT, size: 20, color: '#000'}});
  A.push({xref: xr, yref: yr, x: 1 - 11 / pw, y: 1 - 21 / ph, xanchor: 'right', yanchor: 'middle', showarrow: false,
          text: 'BTSettl <span style="color:#ff0000">- ' + coolT[i] + '</span>', font: {family: FONT, size: 20, color: '#000'}});
  A.push({xref: xr, yref: yr, x: 1 - 11 / pw, y: 1 - 46 / ph, xanchor: 'right', yanchor: 'middle', showarrow: false,
          text: '- ' + hotT[i], font: {family: FONT, size: 20, color: '#0000ff'}});
  layout.shapes.push({type: 'line', xref: xr, yref: yr, x0: 25 / pw, x1: 48 / pw, y0: 1 - 21 / ph, y1: 1 - 21 / ph,
          line: {color: '#000', width: 2}});
});

Plotly.newPlot('chart', data, layout, {staticPlot: true, displayModeBar: false});
</script>
</body>
</html>
